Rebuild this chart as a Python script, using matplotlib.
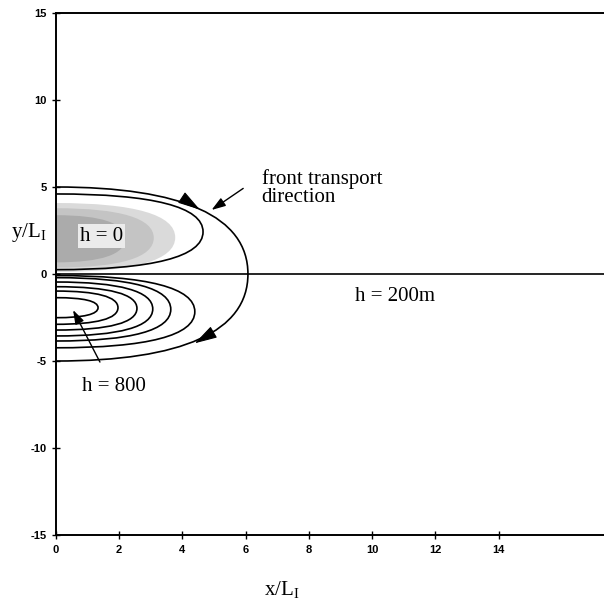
"""Front transport sketch: h-contours in the x/L_I, y/L_I plane."""

import matplotlib
matplotlib.use("Agg")
import matplotlib.pyplot as plt
from matplotlib.path import Path
from matplotlib.patches import PathPatch

plt.rcParams["axes.unicode_minus"] = False

# --- contours (x extent of the nose, y of both ends) ---
contour_nose = [6.07, 4.65, 4.39, 3.63, 3.06, 2.56, 1.96, 1.33]
contour_top = [5.0, 4.6, -0.09, -0.21, -0.46, -0.73, -0.98, -1.36]
contour_bottom = [-5.0, 0.25, -4.24, -3.85, -3.56, -3.22, -2.89, -2.51]

# shaded h = 0 region
shade_nose = 3.77
shade_top = 4.08
shade_bottom = 0.12

x_ticks = [0, 2, 4, 6, 8, 10, 12, 14]
y_ticks = [-15, -10, -5, 0, 5, 10, 15]

SERIF = "Liberation Serif"


def lobe(nose, top, bottom, k=0.66):
    # closed-on-the-axis lobe drawn with cubic beziers
    yc = (top + bottom) / 2
    h = (top - bottom) / 2
    verts = [(0, top), (k * nose, top), (nose, yc + k * h), (nose, yc),
             (nose, yc - k * h), (k * nose, bottom), (0, bottom)]
    codes = [Path.MOVETO] + [Path.CURVE4] * 6
    return Path(verts, codes)


fig = plt.figure(figsize=(6.04, 5.99), dpi=100)
ax = fig.add_axes([0.0927, 0.1068, 0.9073, 0.8715])

# --- shading of the h = 0 pool ---
ax.add_patch(PathPatch(lobe(shade_nose, shade_top, shade_bottom), facecolor="#dadada",
                       edgecolor="none", zorder=1))
ax.add_patch(PathPatch(lobe(shade_nose * 0.82, shade_top - 0.3, shade_bottom + 0.25),
                       facecolor="#c4c4c4", edgecolor="none", zorder=1))
ax.add_patch(PathPatch(lobe(shade_nose * 0.58, shade_top - 0.7, shade_bottom + 0.55),
                       facecolor="#ababab", edgecolor="none", zorder=1))

# --- contour lines ---
for nose, top, bot in zip(contour_nose, contour_top, contour_bottom):
    ax.add_patch(PathPatch(lobe(nose, top, bot), facecolor="none", edgecolor="black",
                           lw=1.2, zorder=3))

ax.axhline(0, color="black", lw=1.2, zorder=3)

# arrowheads on the outer contour
head = dict(arrowstyle="-|>,head_length=0.7,head_width=0.2", color="black",
            lw=0.8, shrinkA=0, shrinkB=0, mutation_scale=20)
ax.annotate("", xy=(4.55, 3.7), xytext=(4.05, 4.3), arrowprops=head, zorder=4)
ax.annotate("", xy=(4.39, -3.98), xytext=(4.95, -3.38), arrowprops=head, zorder=4)

# pointer arrows
thin = dict(arrowstyle="-|>,head_length=0.6,head_width=0.2", color="black",
            lw=1.0, shrinkA=0, shrinkB=0, mutation_scale=14)
ax.annotate("", xy=(4.92, 3.68), xytext=(5.92, 4.92), arrowprops=thin, zorder=4)
ax.annotate("", xy=(0.54, -2.07), xytext=(1.39, -5.06), arrowprops=thin, zorder=4)

# --- labels ---
ax.text(6.5, 6.05, "front transport\ndirection", fontsize=15, family=SERIF,
        va="top", ha="left", linespacing=0.95)
ax.text(1.45, 2.18, "h = 0", fontsize=15, family=SERIF, ha="center", va="center",
        zorder=5, bbox=dict(boxstyle="square,pad=0.1", facecolor="#ebebeb", edgecolor="none"))
ax.text(0.82, -6.44, "h = 800", fontsize=15, family=SERIF, ha="left", va="center")
ax.text(9.45, -1.32, "h = 200m", fontsize=15, family=SERIF, ha="left", va="center")

fig.text(29 / 604, 1 - 232 / 599, r"$\mathregular{y/L_I}$", fontsize=15, family=SERIF,
         ha="center", va="center")
fig.text(282 / 604, 1 - 590 / 599, r"$\mathregular{x/L_I}$", fontsize=15, family=SERIF,
         ha="center", va="center")

# --- axes ---
ax.set_xlim(0, 17.33)
ax.set_ylim(-15, 15)
ax.set_xticks(x_ticks)
ax.set_yticks(y_ticks)
ax.tick_params(direction="inout", length=6, width=1.0, labelsize=8)
ax.tick_params(axis="x", pad=4)
for lab in ax.get_xticklabels() + ax.get_yticklabels():
    lab.set_fontweight("bold")
    lab.set_family("Liberation Sans")
for side in ["left", "bottom", "top"]:
    ax.spines[side].set_linewidth(1.4)
ax.spines["right"].set_visible(False)

fig.savefig("out.png", dpi=100)
